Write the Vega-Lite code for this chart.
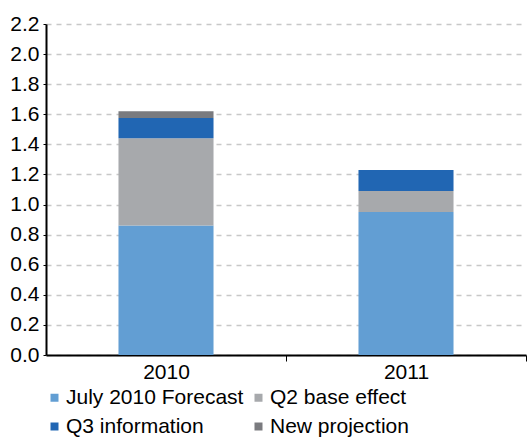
{
  "$schema": "https://vega.github.io/schema/vega-lite/v6.json",
  "width": 480,
  "height": 331,
  "autosize": {"type": "none"},
  "padding": {"left": 46, "top": 24, "right": 3, "bottom": 82},
  "background": "white",
  "config": {
    "view": {"stroke": null},
    "font": "Liberation Sans"
  },
  "data": {
    "values": [
      {"year": "2010", "component": "July 2010 Forecast", "value": 0.86, "ord": 1},
      {"year": "2010", "component": "Q2 base effect", "value": 0.58, "ord": 2},
      {"year": "2010", "component": "Q3 information", "value": 0.135, "ord": 3},
      {"year": "2010", "component": "New projection", "value": 0.045, "ord": 4},
      {"year": "2011", "component": "July 2010 Forecast", "value": 0.95, "ord": 1},
      {"year": "2011", "component": "Q2 base effect", "value": 0.14, "ord": 2},
      {"year": "2011", "component": "Q3 information", "value": 0.14, "ord": 3},
      {"year": "2011", "component": "New projection", "value": 0.0, "ord": 4}
    ]
  },
  "mark": {"type": "bar", "width": {"band": 0.396}},
  "encoding": {
    "x": {
      "field": "year",
      "type": "nominal",
      "title": null,
      "scale": {"paddingInner": 0, "paddingOuter": 0},
      "axis": {
        "labelAngle": 0,
        "labelFont": "Liberation Sans",
        "labelFontSize": 21,
        "labelColor": "black",
        "domainColor": "black",
        "domainWidth": 2,
        "tickColor": "black",
        "tickWidth": 1,
        "tickSize": 6,
        "tickOffset": 120,
        "labelOffset": -120,
        "labelPadding": 0,
        "grid": false
      }
    },
    "y": {
      "field": "value",
      "type": "quantitative",
      "stack": "zero",
      "title": null,
      "scale": {"domain": [0, 2.2], "nice": false},
      "axis": {
        "values": [0, 0.2, 0.4, 0.6, 0.8, 1.0, 1.2, 1.4, 1.6, 1.8, 2.0, 2.2],
        "format": ".1f",
        "labelFont": "Liberation Sans",
        "labelFontSize": 21,
        "labelColor": "black",
        "domainColor": "black",
        "domainWidth": 2,
        "tickColor": "black",
        "tickSize": 3,
        "labelPadding": 4,
        "grid": true,
        "gridColor": "#c8c8c8",
        "gridWidth": 1.5,
        "gridDash": [5, 5]
      }
    },
    "color": {
      "field": "component",
      "type": "nominal",
      "scale": {
        "domain": ["July 2010 Forecast", "Q2 base effect", "Q3 information", "New projection"],
        "range": ["#629ED3", "#A7A9AC", "#2166B3", "#7A7B7F"]
      },
      "legend": {
        "title": null,
        "orient": "none",
        "legendX": -2,
        "legendY": 363,
        "direction": "horizontal",
        "columns": 2,
        "symbolType": "square",
        "symbolSize": 64,
        "symbolStrokeWidth": 0,
        "labelFontSize": 21,
        "labelLimit": 400,
        "labelColor": "black",
        "labelFont": "Liberation Sans",
        "labelOffset": 1,
        "columnPadding": 4,
        "rowPadding": 7
      }
    },
    "order": {"field": "ord", "type": "quantitative"}
  }
}
